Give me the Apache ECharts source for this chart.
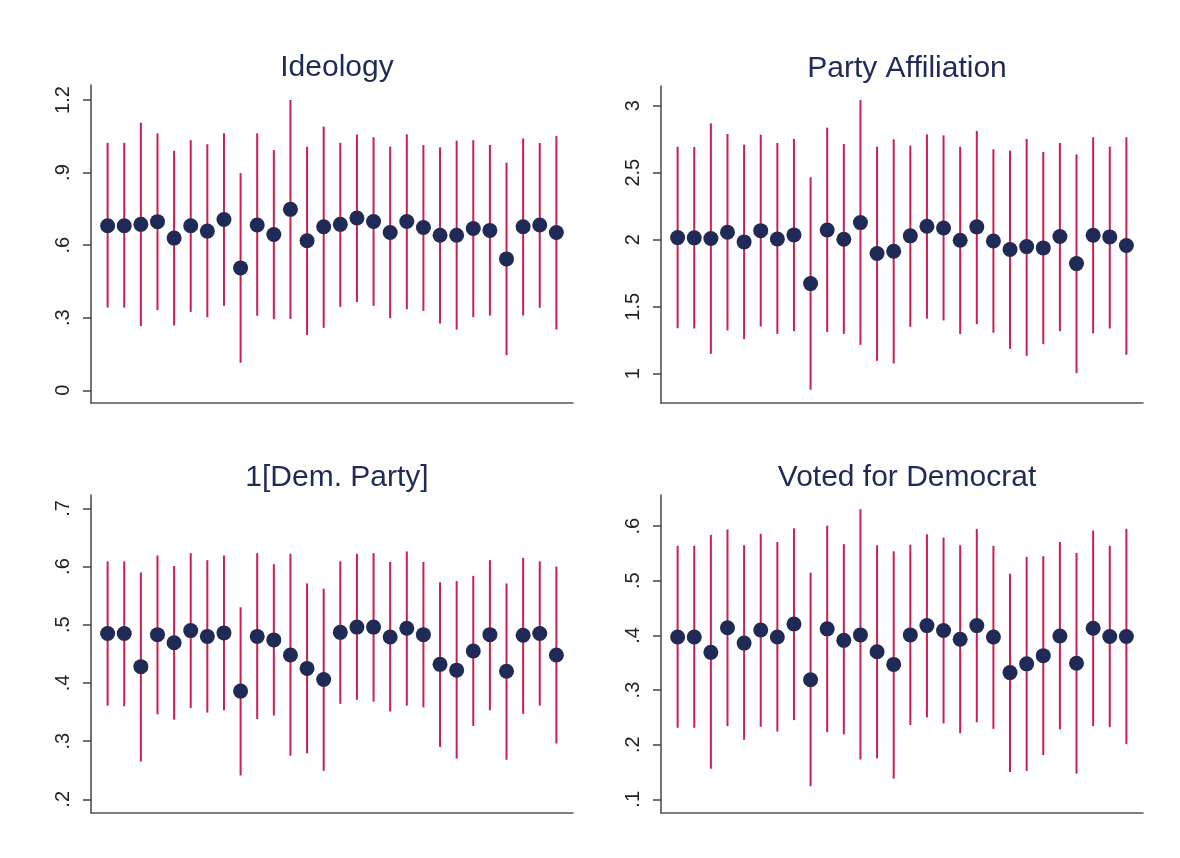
<!DOCTYPE html>
<html>
<head>
<meta charset="utf-8">
<style>
html,body{margin:0;padding:0;background:#fff;}
#chart{width:1180px;height:858px;}
</style>
<script src="https://cdn.jsdelivr.net/npm/echarts@6.0.0/dist/echarts.min.js"></script>
</head>
<body>
<div id="chart"></div>
<script>
// Specification index (x positions)
const specs = [1,2,3,4,5,6,7,8,9,10,11,12,13,14,15,16,17,18,19,20,21,22,23,24,25,26,27,28];

// Panel 1: Ideology
const ideologyEst = [0.680,0.680,0.686,0.697,0.629,0.680,0.658,0.706,0.506,0.683,0.644,0.748,0.618,0.676,0.686,0.712,0.698,0.652,0.698,0.673,0.641,0.641,0.669,0.661,0.543,0.676,0.683,0.652];
const ideologyHi  = [1.023,1.023,1.106,1.062,0.990,1.034,1.017,1.062,0.898,1.062,0.993,1.200,1.007,1.090,1.023,1.057,1.046,1.007,1.058,1.014,1.004,1.032,1.034,1.014,0.941,1.041,1.022,1.051];
const ideologyLo  = [0.342,0.342,0.265,0.331,0.268,0.324,0.302,0.349,0.114,0.308,0.294,0.295,0.228,0.258,0.345,0.365,0.349,0.298,0.335,0.328,0.276,0.251,0.302,0.309,0.145,0.309,0.341,0.251];
const ideologyTicks = [0,0.3,0.6,0.9,1.2];

// Panel 2: Party Affiliation
const partyEst = [2.016,2.014,2.009,2.056,1.984,2.068,2.006,2.036,1.673,2.073,2.004,2.128,1.897,1.914,2.029,2.101,2.088,1.996,2.096,1.991,1.927,1.949,1.939,2.024,1.822,2.034,2.021,1.957];
const partyHi  = [2.694,2.692,2.868,2.789,2.709,2.784,2.722,2.752,2.466,2.836,2.714,3.042,2.694,2.749,2.702,2.786,2.779,2.694,2.811,2.675,2.665,2.752,2.655,2.722,2.637,2.764,2.694,2.764];
const partyLo  = [1.340,1.338,1.149,1.323,1.258,1.353,1.298,1.318,0.881,1.311,1.298,1.216,1.097,1.077,1.350,1.412,1.398,1.296,1.370,1.306,1.186,1.134,1.221,1.318,1.005,1.301,1.338,1.142];
const partyTicks = [1,1.5,2,2.5,3];

// Panel 3: 1[Dem. Party]
const demEst = [0.485,0.485,0.428,0.483,0.469,0.490,0.480,0.486,0.386,0.480,0.474,0.448,0.425,0.406,0.487,0.496,0.496,0.479,0.494,0.483,0.432,0.422,0.455,0.483,0.420,0.482,0.485,0.448];
const demHi  = [0.609,0.609,0.590,0.619,0.601,0.623,0.611,0.619,0.530,0.623,0.604,0.622,0.571,0.562,0.609,0.622,0.623,0.608,0.626,0.608,0.573,0.575,0.584,0.611,0.571,0.615,0.609,0.600];
const demLo  = [0.361,0.360,0.265,0.346,0.337,0.357,0.349,0.353,0.241,0.338,0.344,0.275,0.279,0.249,0.364,0.371,0.368,0.351,0.361,0.358,0.290,0.270,0.326,0.353,0.268,0.347,0.361,0.296];
const demTicks = [0.2,0.3,0.4,0.5,0.6,0.7];

// Panel 4: Voted for Democrat
const votedEst = [0.397,0.397,0.369,0.414,0.386,0.410,0.397,0.421,0.319,0.412,0.391,0.401,0.370,0.347,0.401,0.418,0.409,0.393,0.418,0.397,0.332,0.348,0.363,0.399,0.349,0.413,0.398,0.398];
const votedHi  = [0.564,0.564,0.584,0.594,0.565,0.586,0.571,0.596,0.515,0.601,0.567,0.631,0.565,0.554,0.566,0.585,0.579,0.565,0.595,0.564,0.513,0.544,0.545,0.571,0.551,0.592,0.564,0.595];
const votedLo  = [0.231,0.231,0.156,0.234,0.209,0.233,0.224,0.245,0.124,0.223,0.219,0.173,0.175,0.138,0.236,0.250,0.239,0.221,0.241,0.229,0.150,0.152,0.181,0.228,0.147,0.234,0.232,0.201];
const votedTicks = [0.1,0.2,0.3,0.4,0.5,0.6];

const titles = ['Ideology','Party Affiliation','1[Dem. Party]','Voted for Democrat'];

const panels = [
  {title: titles[0], est: ideologyEst, hi: ideologyHi, lo: ideologyLo, ticks: ideologyTicks, min: -0.0526, max: 1.262},
  {title: titles[1], est: partyEst, hi: partyHi, lo: partyLo, ticks: partyTicks, min: 0.782, max: 3.147},
  {title: titles[2], est: demEst, hi: demHi, lo: demLo, ticks: demTicks, min: 0.1765, max: 0.723},
  {title: titles[3], est: votedEst, hi: votedHi, lo: votedLo, ticks: votedTicks, min: 0.075, max: 0.657}
];

const grids = [
  {left: 91, top: 85, width: 482, height: 318},
  {left: 661, top: 86, width: 482, height: 317},
  {left: 91, top: 495, width: 482, height: 318},
  {left: 661, top: 495, width: 482, height: 318}
];

const NAVY = '#1f2a56';
const RED = '#cc1d55';
const FONT = 'Liberation Sans, Arial, Helvetica, sans-serif';

function fmt(v){
  let s = String(Math.round(v*1000)/1000);
  if (s.startsWith('0.')) s = s.slice(1);
  return s;
}

const option = {
  backgroundColor: '#fff',
  animation: false,
  title: panels.map((p,i)=>({
    text: p.title,
    left: grids[i].left + grids[i].width/2,
    textAlign: 'center',
    top: grids[i].top - 37,
    textStyle: {color: NAVY, fontSize: 30, fontWeight: 'normal', fontFamily: FONT}
  })),
  grid: grids.map(g=>Object.assign({containLabel:false}, g)),
  xAxis: panels.map((p,i)=>({
    type: 'value', gridIndex: i, min: -1, max: 28,
    axisLine: {show: true, onZero: false, lineStyle: {color: '#555', width: 1.5}},
    axisTick: {show: false}, axisLabel: {show: false}, splitLine: {show: false}
  })),
  yAxis: panels.map((p,i)=>({
    type: 'value', gridIndex: i, min: p.min, max: p.max,
    axisLine: {show: true, onZero: false, lineStyle: {color: '#444', width: 1.5}},
    axisTick: {show: true, length: 8, customValues: p.ticks, lineStyle: {color: '#444', width: 1.5}},
    axisLabel: {show: true, customValues: p.ticks, rotate: 90, margin: 18,
      color: '#222', fontSize: 20, fontFamily: FONT, formatter: fmt},
    splitLine: {show: false}
  })),
  series: []
};

panels.forEach((p,i)=>{
  option.series.push({
    type: 'custom', xAxisIndex: i, yAxisIndex: i,
    data: specs.map((s,k)=>[k, p.lo[k], p.hi[k]]),
    renderItem: function(params, api){
      const a = api.coord([api.value(0), api.value(1)]);
      const b = api.coord([api.value(0), api.value(2)]);
      return {type: 'line', shape: {x1: a[0], y1: a[1], x2: b[0], y2: b[1]},
        style: {stroke: RED, lineWidth: 2}};
    },
    silent: true, z: 2
  });
  option.series.push({
    type: 'scatter', xAxisIndex: i, yAxisIndex: i,
    data: specs.map((s,k)=>[k, p.est[k]]),
    symbol: 'circle', symbolSize: 15,
    itemStyle: {color: NAVY, opacity: 1},
    silent: true, z: 3
  });
});

const chart = echarts.init(document.getElementById('chart'), null, {renderer: 'canvas'});
chart.setOption(option);
</script>
</body>
</html>
